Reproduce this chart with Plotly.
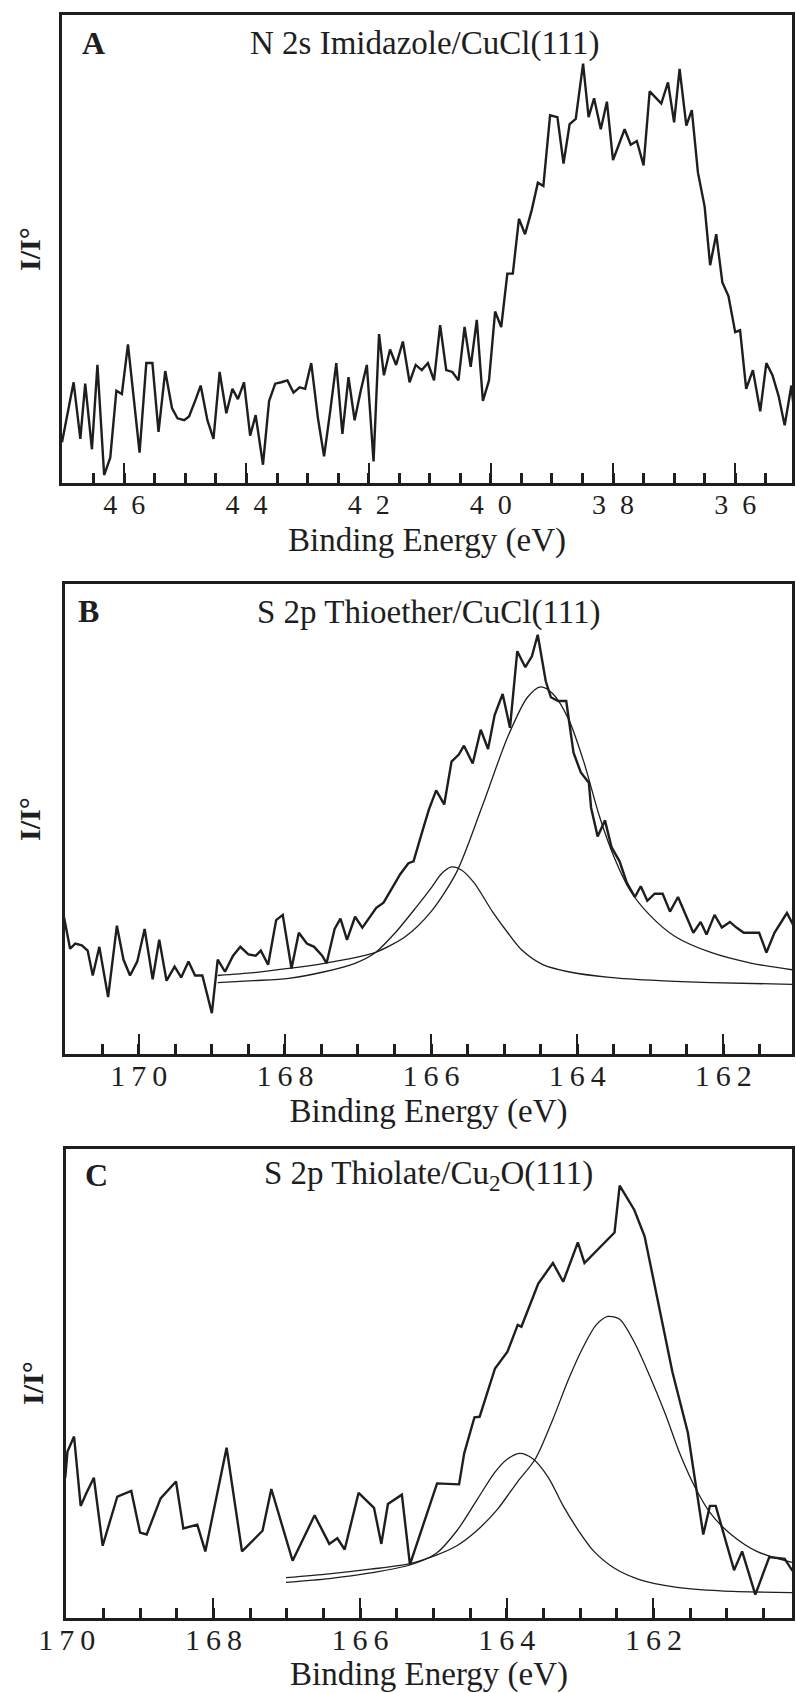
import plotly.graph_objects as go

# ---------------- Panel A: N 2s Imidazole/CuCl(111) ----------------
a_energy = [47.02, 46.83, 46.72, 46.64, 46.53, 46.44, 46.33, 46.23, 46.13, 46.04,
            45.94, 45.75, 45.64, 45.54, 45.44, 45.33, 45.22, 45.13, 45.02, 44.94,
            44.83, 44.75, 44.64, 44.54, 44.44, 44.33, 44.23, 44.14, 44.04, 43.94,
            43.85, 43.73, 43.63, 43.53, 43.43, 43.33, 43.23, 43.13, 43.04, 42.94,
            42.83, 42.73, 42.63, 42.53, 42.43, 42.33, 42.23, 42.13, 42.03, 41.92,
            41.83, 41.75, 41.65, 41.55, 41.44, 41.33, 41.23, 41.13, 41.03, 40.93,
            40.83, 40.73, 40.63, 40.53, 40.43, 40.33, 40.23, 40.13, 40.03, 39.93,
            39.83, 39.73, 39.64, 39.54, 39.44, 39.33, 39.23, 39.14, 39.03, 38.91,
            38.81, 38.71, 38.61, 38.49, 38.40, 38.31, 38.20, 38.10, 38.00, 37.90,
            37.81, 37.71, 37.61, 37.50, 37.40, 37.29, 37.21, 37.10, 37.00, 36.91,
            36.80, 36.71, 36.61, 36.50, 36.41, 36.31, 36.21, 36.11, 36.00, 35.92,
            35.82, 35.71, 35.59, 35.49, 35.39, 35.29, 35.19, 35.08, 34.98]
a_intensity = [8.7, 21.5, 9.4, 21.2, 7.2, 25.2, 1.7, 5.4, 19.7, 19.0,
               29.6, 6.5, 25.6, 25.6, 10.9, 23.9, 16.0, 13.8, 13.4, 14.2,
               17.9, 20.8, 13.4, 9.4, 23.7, 14.9, 20.1, 17.9, 21.5, 10.1,
               14.5, 3.9, 17.5, 21.2, 21.5, 21.9, 19.3, 20.4, 20.1, 25.6,
               13.8, 5.7, 15.3, 25.6, 10.5, 22.6, 13.4, 19.7, 25.2, 4.6,
               31.8, 23.0, 28.5, 25.2, 30.2, 21.5, 25.2, 24.1, 25.6, 21.9,
               33.7, 24.1, 23.7, 21.9, 33.3, 24.8, 34.8, 17.5, 21.9, 36.6,
               33.3, 44.7, 44.7, 56.4, 53.1, 58.3, 64.1, 63.4, 78.5, 78.1,
               68.2, 76.6, 77.7, 89.5, 78.1, 82.1, 75.5, 81.4, 68.9, 72.2,
               75.5, 72.2, 73.0, 67.8, 83.6, 82.1, 81.0, 85.5, 77.0, 88.4,
               76.3, 79.6, 66.3, 59.0, 46.5, 53.1, 42.8, 39.9, 32.2, 32.6,
               20.1, 24.1, 15.3, 25.6, 23.0, 18.6, 12.3, 20.8, 8.3]

# ---------------- Panel B: S 2p Thioether/CuCl(111) ----------------
b_energy = [171.03, 170.94, 170.87, 170.78, 170.70, 170.63, 170.54, 170.42, 170.30, 170.21,
            170.12, 170.02, 169.92, 169.81, 169.72, 169.62, 169.51, 169.42, 169.32, 169.23,
            169.13, 169.00, 168.92, 168.82, 168.71, 168.61, 168.50, 168.40, 168.33, 168.23,
            168.12, 168.03, 167.91, 167.81, 167.70, 167.60, 167.49, 167.43, 167.32, 167.24,
            167.15, 167.04, 166.94, 166.83, 166.75, 166.65, 166.56, 166.42, 166.31, 166.24,
            166.14, 166.03, 165.93, 165.82, 165.72, 165.62, 165.55, 165.43, 165.32, 165.22,
            165.13, 165.02, 164.92, 164.82, 164.71, 164.62, 164.54, 164.43, 164.36, 164.26,
            164.15, 164.05, 163.95, 163.84, 163.81, 163.72, 163.62, 163.53, 163.42, 163.32,
            163.21, 163.13, 163.04, 162.94, 162.83, 162.73, 162.62, 162.52, 162.41, 162.31,
            162.23, 162.12, 162.02, 161.91, 161.82, 161.72, 161.61, 161.51, 161.41, 161.30,
            161.13, 161.00]
b_intensity = [29.6, 22.4, 23.5, 23.1, 22.0, 16.7, 22.8, 12.1, 27.3, 20.1,
               16.7, 19.7, 26.6, 15.9, 24.3, 15.6, 18.6, 16.3, 19.7, 16.7,
               16.7, 8.7, 20.1, 17.5, 20.9, 22.8, 21.2, 20.9, 22.0, 19.0,
               28.5, 29.6, 18.2, 25.8, 23.5, 22.8, 20.9, 19.3, 26.6, 28.8,
               24.3, 29.2, 26.9, 29.2, 31.1, 32.2, 34.5, 38.3, 40.6, 41.0,
               46.3, 52.0, 56.1, 53.1, 62.2, 63.7, 65.6, 61.8, 69.0, 64.9,
               72.1, 76.6, 69.4, 85.7, 82.3, 84.6, 89.2, 79.3, 75.9, 75.1,
               75.1, 64.1, 59.9, 57.7, 52.4, 46.3, 49.7, 44.0, 41.0, 36.4,
               33.4, 35.7, 32.6, 34.1, 34.1, 30.3, 33.4, 29.6, 25.8, 28.1,
               25.4, 29.6, 26.9, 28.1, 26.9, 25.8, 25.8, 25.8, 21.6, 25.8,
               30.0, 26.2]
b_fit1_energy = [168.92, 168.43, 167.95, 167.46, 167.04, 166.76, 166.35, 166.00, 165.65, 165.30,
                 164.95, 164.68, 164.50, 164.33, 164.12, 163.91, 163.70, 163.49, 163.28, 163.01,
                 162.66, 162.17, 161.61, 161.00]
b_fit1 = [16.7, 17.3, 18.2, 19.3, 20.5, 21.6, 25.0, 30.3, 38.7, 52.7,
          67.5, 75.9, 78.1, 76.6, 71.3, 62.2, 50.8, 41.7, 34.9, 29.6,
          25.0, 21.6, 19.3, 17.8]
b_fit2_energy = [168.92, 168.43, 167.95, 167.46, 167.04, 166.76, 166.49, 166.21, 166.00, 165.86,
                 165.72, 165.58, 165.41, 165.16, 164.95, 164.75, 164.47, 164.12, 163.56, 162.87,
                 162.17, 161.00]
b_fit2 = [15.2, 15.6, 16.1, 17.5, 19.3, 21.6, 25.8, 31.1, 35.3, 38.3,
          39.8, 39.1, 36.4, 30.3, 25.8, 22.0, 19.0, 17.5, 16.3, 15.6,
          15.2, 14.8]

# ---------------- Panel C: S 2p Thiolate/Cu2O(111) ----------------
c_energy = [170.02, 169.99, 169.90, 169.81, 169.73, 169.63, 169.51, 169.31, 169.12, 169.00,
            168.91, 168.72, 168.51, 168.41, 168.22, 168.11, 167.82, 167.61, 167.33, 167.21,
            166.92, 166.62, 166.42, 166.31, 166.21, 166.02, 165.81, 165.71, 165.62, 165.43,
            165.32, 164.95, 164.65, 164.58, 164.44, 164.37, 164.16, 163.99, 163.85, 163.80,
            163.57, 163.37, 163.23, 163.03, 162.94, 162.53, 162.46, 162.26, 162.12, 161.91,
            161.74, 161.53, 161.32, 161.23, 161.15, 160.90, 160.79, 160.61, 160.42, 160.21,
            160.11, 160.05]
c_intensity = [29.9, 35.5, 38.7, 23.9, 26.7, 29.9, 15.4, 25.9, 27.1, 18.2,
               17.8, 25.5, 29.1, 19.1, 19.9, 14.2, 36.3, 14.2, 18.6, 27.5,
               12.2, 21.9, 15.8, 17.0, 14.6, 26.7, 23.5, 15.8, 24.3, 26.3,
               11.4, 28.7, 28.5, 35.1, 42.8, 42.9, 53.2, 56.8, 62.5, 62.1,
               71.3, 75.7, 71.7, 80.1, 75.7, 82.2, 92.2, 87.0, 81.4, 65.3,
               52.4, 39.5, 17.8, 23.9, 23.9, 10.2, 14.2, 5.0, 13.0, 12.6,
               10.2, 9.8]
c_fit1_energy = [167.01, 166.42, 165.86, 165.32, 164.96, 164.68, 164.41, 164.13, 163.85, 163.61,
                 163.37, 163.16, 162.95, 162.78, 162.62, 162.46, 162.26, 162.05, 161.84, 161.63,
                 161.42, 161.22, 160.94, 160.59, 160.05]
c_fit1 = [8.6, 9.4, 10.4, 11.6, 13.4, 15.4, 18.6, 23.1, 29.1, 33.9,
          42.4, 50.8, 58.0, 62.5, 64.3, 63.7, 58.8, 51.6, 43.6, 34.7,
          27.5, 22.3, 17.8, 14.2, 11.6]
c_fit2_energy = [167.01, 166.42, 165.86, 165.32, 164.96, 164.68, 164.41, 164.16, 163.99, 163.82,
                 163.64, 163.43, 163.23, 163.02, 162.81, 162.53, 162.19, 161.70, 161.08, 160.05]
c_fit2 = [7.6, 8.4, 9.6, 11.3, 13.8, 18.6, 25.1, 31.1, 33.9, 35.1,
          33.9, 29.9, 23.9, 18.6, 14.2, 10.6, 8.2, 6.6, 5.8, 5.4]

# tick positions: every 0.5 eV carries a tick, labels only on the even values
a_ticks = [46.5, 46.0, 45.5, 45.0, 44.5, 44.0, 43.5, 43.0, 42.5, 42.0, 41.5, 41.0,
           40.5, 40.0, 39.5, 39.0, 38.5, 38.0, 37.5, 37.0, 36.5, 36.0, 35.5]
b_ticks = [170.5, 170.0, 169.5, 169.0, 168.5, 168.0, 167.5, 167.0, 166.5, 166.0,
           165.5, 165.0, 164.5, 164.0, 163.5, 163.0, 162.5, 162.0, 161.5]
c_ticks = [170.0, 169.5, 169.0, 168.5, 168.0, 167.5, 167.0, 166.5, 166.0, 165.5,
           165.0, 164.5, 164.0, 163.5, 163.0, 162.5, 162.0, 161.5, 161.0, 160.5]
# long (major) ticks
a_major = [46, 44, 42, 40, 38, 36]
b_major = [170, 168, 166, 164, 162]
c_major = [170, 168, 166, 164, 162]
# printed labels, digits spaced out as in the original
a_labels = {46: "4\u20026", 44: "4\u20024", 42: "4\u20022",
            40: "4\u20020", 38: "3\u20028", 36: "3\u20026"}
bc_labels = {170: "1\u20097\u20090", 168: "1\u20096\u20098", 166: "1\u20096\u20096",
             164: "1\u20096\u20094", 162: "1\u20096\u20092"}

panel_titles = ["N 2s Imidazole/CuCl(111)", "S 2p Thioether/CuCl(111)",
                "S 2p Thiolate/Cu<sub>2</sub>O(111)"]
panel_letters = ["A", "B", "C"]
x_title = "Binding Energy (eV)"
y_title = "I/I\u00b0"

W, H = 796, 1693
SERIF = "Liberation Serif, Times New Roman, serif"
INK = "#1e1e1e"

fig = go.Figure()

data_line = dict(color=INK, width=2.4)
fit_line = dict(color=INK, width=1.3, shape="spline", smoothing=0.8)

fig.add_trace(go.Scatter(x=a_energy, y=a_intensity, mode="lines", line=data_line,
                         xaxis="x", yaxis="y", showlegend=False))
fig.add_trace(go.Scatter(x=b_fit1_energy, y=b_fit1, mode="lines", line=fit_line,
                         xaxis="x2", yaxis="y2", showlegend=False))
fig.add_trace(go.Scatter(x=b_fit2_energy, y=b_fit2, mode="lines", line=fit_line,
                         xaxis="x2", yaxis="y2", showlegend=False))
fig.add_trace(go.Scatter(x=b_energy, y=b_intensity, mode="lines", line=data_line,
                         xaxis="x2", yaxis="y2", showlegend=False))
fig.add_trace(go.Scatter(x=c_fit1_energy, y=c_fit1, mode="lines", line=fit_line,
                         xaxis="x3", yaxis="y3", showlegend=False))
fig.add_trace(go.Scatter(x=c_fit2_energy, y=c_fit2, mode="lines", line=fit_line,
                         xaxis="x3", yaxis="y3", showlegend=False))
fig.add_trace(go.Scatter(x=c_energy, y=c_intensity, mode="lines", line=data_line,
                         xaxis="x3", yaxis="y3", showlegend=False))

# pixel boxes of each panel: left, right, top, bottom
boxes = [(62, 792, 14.5, 483), (65, 792, 584, 1054), (66, 792, 1149, 1618)]
xranges = [[47.02, 35.07], [171.01, 161.06], [170.01, 160.11]]
all_ticks = [a_ticks, b_ticks, c_ticks]
majors = [a_major, b_major, c_major]
labels = [a_labels, bc_labels, bc_labels]
tick_sizes = [28, 30, 30]
label_shift = [-5, -7, -7]

layout = dict(width=W, height=H, autosize=False,
              margin=dict(l=0, r=0, t=0, b=0, pad=0, autoexpand=False),
              paper_bgcolor="white", plot_bgcolor="rgba(0,0,0,0)", showlegend=False)

for i, (l, r, t, b) in enumerate(boxes):
    n = i + 1
    xd = [l / W, r / W]
    yd = [1 - b / H, 1 - t / H]
    xname = "xaxis" if n == 1 else "xaxis%d" % n
    yname = "yaxis" if n == 1 else "yaxis%d" % n
    ticktext = [labels[i].get(int(v), "") if v == int(v) else "" for v in all_ticks[i]]
    # main axis: short ticks everywhere, labels on the even values
    layout[xname] = dict(
        domain=xd, range=xranges[i], anchor="y" if n == 1 else "y%d" % n,
        showline=True, mirror=True, linecolor=INK, linewidth=2.5,
        ticks="inside", ticklen=10, tickwidth=2.5, tickcolor=INK,
        tickmode="array", tickvals=all_ticks[i], ticktext=ticktext,
        ticklabelstandoff=label_shift[i],
        tickfont=dict(family=SERIF, size=tick_sizes[i], color=INK),
        minor=dict(tickmode="array", tickvals=majors[i], ticks="inside", ticklen=20,
                   tickwidth=2.2, tickcolor=INK, showgrid=False),
        showgrid=False, zeroline=False, automargin=False,
        title=dict(text=x_title, font=dict(family=SERIF, size=33, color=INK), standoff=9))
    layout[yname] = dict(
        domain=yd, range=[0, 100], anchor="x" if n == 1 else "x%d" % n,
        showline=True, mirror=True, linecolor=INK, linewidth=2.5,
        ticks="", showticklabels=False, showgrid=False, zeroline=False, automargin=False)

fig.update_layout(**layout)

# panel letters, titles and y labels
letter_pos = [(93, 43), (88, 611), (96, 1175)]
title_pos = [(425, 43), (428, 612), (428, 1175)]
ylab_pos = [(29, 249), (30, 819), (32, 1383)]
for i in range(3):
    fig.add_annotation(xref="paper", yref="paper", x=letter_pos[i][0] / W,
                       y=1 - letter_pos[i][1] / H, text="<b>%s</b>" % panel_letters[i],
                       showarrow=False, xanchor="center", yanchor="middle",
                       font=dict(family=SERIF, size=32, color=INK))
    fig.add_annotation(xref="paper", yref="paper", x=title_pos[i][0] / W,
                       y=1 - title_pos[i][1] / H, text=panel_titles[i],
                       showarrow=False, xanchor="center", yanchor="middle",
                       font=dict(family=SERIF, size=33, color=INK))
    fig.add_annotation(xref="paper", yref="paper", x=ylab_pos[i][0] / W,
                       y=1 - ylab_pos[i][1] / H, text="<b>%s</b>" % y_title,
                       showarrow=False, xanchor="center", yanchor="middle", textangle=-90,
                       font=dict(family=SERIF, size=30, color=INK))

fig.write_html("out.html")
